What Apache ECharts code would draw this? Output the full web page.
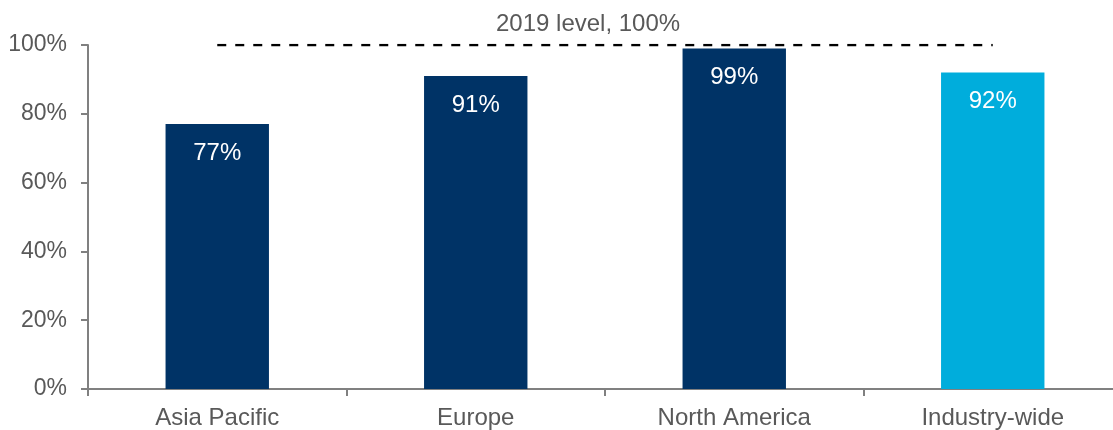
<!DOCTYPE html>
<html>
<head>
<meta charset="utf-8">
<script src="https://cdn.jsdelivr.net/npm/echarts@6/dist/echarts.min.js"></script>
<style>
  html, body { margin: 0; padding: 0; background: #fff; overflow: hidden; }
  /* the source chart is cropped on the right, so the canvas runs past the window */
  #chart { width: 1122px; height: 430px; }
</style>
</head>
<body>
<div id="chart"></div>
<script>
  // data
  var categories = ['Asia Pacific', 'Europe', 'North America', 'Industry-wide']
  var recovery = [77, 91, 99, 92]
  var barColors = ['#003366', '#003366', '#003366', '#00ADDC']
  var baseline = [100, 100, 100, 100]
  var baselineLabel = '2019 level, 100%'

  var font = 'Arial, "Liberation Sans", sans-serif'
  var grey = '#595959'

  var chart = echarts.init(document.getElementById('chart'))
  var option = {
    animation: false,
    title: {
      text: baselineLabel,
      left: 496,
      top: 12,
      padding: 0,
      textStyle: { color: grey, fontSize: 24, fontWeight: 'normal', fontFamily: font }
    },
    grid: {
      left: 88,
      right: 0,
      top: 45,
      bottom: 41,
      containLabel: false
    },
    xAxis: {
      type: 'category',
      data: categories,
      axisLine: { lineStyle: { color: '#808080', width: 2 } },
      axisTick: { show: true, length: 7, lineStyle: { color: '#808080', width: 2 } },
      axisLabel: { color: grey, fontSize: 24, fontFamily: font, margin: 17 }
    },
    yAxis: {
      type: 'value',
      min: 0,
      max: 100,
      interval: 20,
      splitLine: { show: false },
      axisLine: { show: true, lineStyle: { color: '#808080', width: 2 } },
      axisTick: { show: true, length: 7, lineStyle: { color: '#808080', width: 2 } },
      axisLabel: {
        color: grey, fontSize: 23, fontFamily: font, margin: 21,
        formatter: function (v) { return v + '%' }
      }
    },
    series: [
      {
        type: 'bar',
        barWidth: '40%',
        data: recovery.map(function (v, i) {
          return { value: v, itemStyle: { color: barColors[i] } }
        }),
        label: {
          show: true,
          position: 'insideTop',
          distance: 17,
          color: '#fff',
          fontSize: 24,
          fontFamily: font,
          formatter: '{c}%'
        },
        z: 2
      },
      {
        type: 'line',
        data: baseline,
        symbol: 'none',
        silent: true,
        lineStyle: { color: '#000', width: 2.5, type: [9, 9] },
        z: 3
      }
    ]
  }
  chart.setOption(option)
</script>
</body>
</html>
